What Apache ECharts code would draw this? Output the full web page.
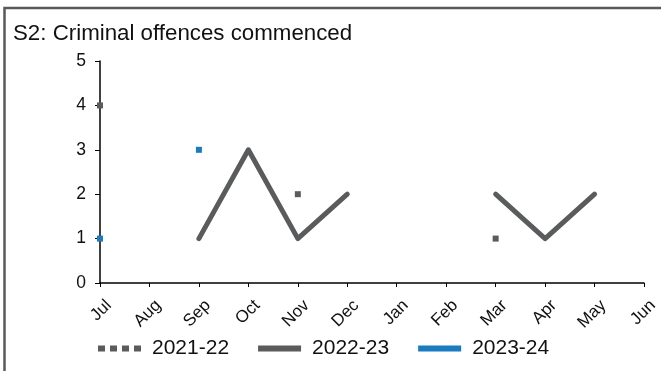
<!DOCTYPE html>
<html><head><meta charset="utf-8">
<script src="https://cdn.jsdelivr.net/npm/echarts@6/dist/echarts.min.js"></script>
<style>html,body{margin:0;padding:0;background:#fff}#c{width:661px;height:371px}</style>
</head><body><div id="c"></div>
<script>
const titleText = 'S2: Criminal offences commenced';
const categories = ['Jul','Aug','Sep','Oct','Nov','Dec','Jan','Feb','Mar','Apr','May','Jun'];
const yTicks = [0,1,2,3,4,5];
const seriesNames = ['2021-22','2022-23','2023-24'];
const s2021_22 = [4,null,null,null,2,null,null,null,1,null,null,null];
const s2022_23 = [null,null,1,3,1,2,null,null,2,1,2,null];
const s2023_24 = [1,null,3,null,null,null,null,null,null,null,null,null];

const GRAY = '#5a5b5d', BLUE = '#1a7bc0';
const FONT = 'Liberation Sans, Arial, sans-serif';
const chart = echarts.init(document.getElementById('c'), null, {renderer:'canvas'});
chart.setOption({
  animation:false,
  backgroundColor:'#fff',
  title:{text:titleText,left:8,top:18,textStyle:{fontFamily:FONT,fontSize:22.3,fontWeight:'normal',color:'#111'}},
  graphic:[{type:'rect',shape:{x:4.5,y:8,width:700,height:400},style:{fill:null,stroke:'#595959',lineWidth:2.5},silent:true}],
  grid:{left:100,right:14,top:61,bottom:88,containLabel:false},
  legend:{left:93,top:333,itemWidth:43,itemHeight:6,itemGap:29,
    textStyle:{fontFamily:FONT,fontSize:21,color:'#111',padding:[0,0,0,6]},
    data:[
      {name:seriesNames[0],icon:'path://M0,0h7v6h-7z M12,0h7v6h-7z M24,0h7v6h-7z M36,0h7v6h-7z'},
      {name:seriesNames[1],icon:'rect'},
      {name:seriesNames[2],icon:'rect'}
    ]},
  xAxis:[
    {type:'category',data:categories,boundaryGap:false,
      axisLine:{lineStyle:{color:'#000',width:1.5}},
      axisTick:{show:true,alignWithLabel:true,length:4,lineStyle:{color:'#000'}},
      axisLabel:{show:false},
      splitLine:{show:false}},
    {type:'category',data:categories,boundaryGap:false,position:'bottom',offset:11,
      axisLine:{show:false},axisTick:{show:false},splitLine:{show:false},
      axisLabel:{rotate:45,interval:0,margin:0,align:'right',verticalAlign:'top',padding:[4,0,0,0],
        fontFamily:FONT,fontSize:17,color:'#111'}}
  ],
  yAxis:{type:'value',min:yTicks[0],max:yTicks[yTicks.length-1],interval:1,
    axisLine:{show:true,lineStyle:{color:'#000',width:1.5}},
    axisTick:{show:true,length:5,lineStyle:{color:'#000'}},
    axisLabel:{margin:14,fontFamily:FONT,fontSize:17.5,color:'#111'},
    splitLine:{show:false}},
  series:[
    {name:seriesNames[0],type:'line',data:s2021_22,color:GRAY,symbol:'rect',symbolSize:6,showSymbol:true,showAllSymbol:true,
      lineStyle:{color:GRAY,width:5,type:'dotted'},itemStyle:{color:GRAY},z:3},
    {name:seriesNames[1],type:'line',data:s2022_23,color:GRAY,symbol:'none',
      lineStyle:{color:GRAY,width:5,cap:'round',join:'round'},itemStyle:{color:GRAY},z:2},
    {name:seriesNames[2],type:'line',data:s2023_24,color:BLUE,symbol:'rect',symbolSize:6,showSymbol:true,showAllSymbol:true,
      lineStyle:{color:BLUE,width:5},itemStyle:{color:BLUE},z:3}
  ]
});
</script></body></html>
